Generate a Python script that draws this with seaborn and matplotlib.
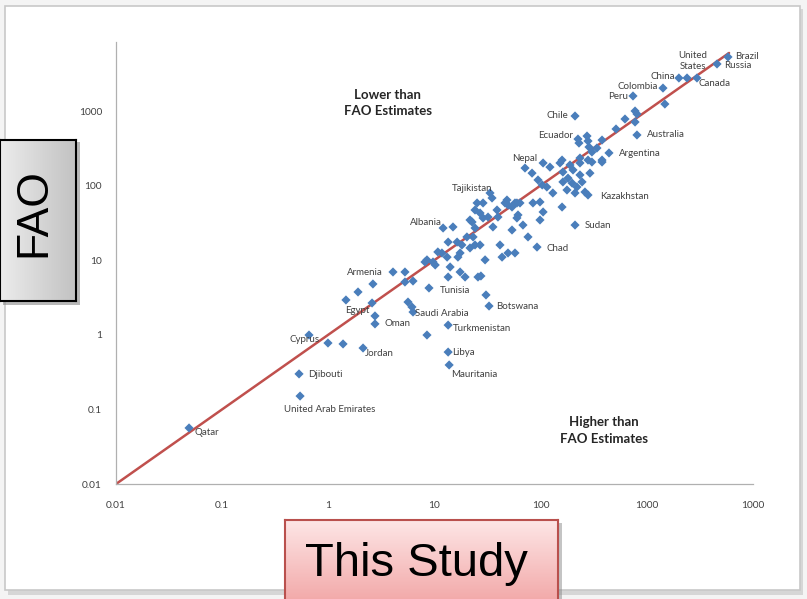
import matplotlib
matplotlib.use("Agg")
import matplotlib.pyplot as plt
import seaborn as sns
import numpy as np
import pandas as pd
from matplotlib.patches import Rectangle
from matplotlib.colors import LinearSegmentedColormap

# ---------------- data ----------------
labeled_names = ["Brazil", "Russia", "China", "United\nStates", "Canada", "Colombia",
                 "Peru", "Chile", "Ecuador", "Australia", "Nepal", "Argentina",
                 "Kazakhstan", "Tajikistan", "Albania", "Sudan", "Chad", "Armenia",
                 "Tunisia", "Botswana", "Egypt", "Saudi Arabia", "Oman", "Turkmenistan",
                 "Cyprus", "Jordan", "Libya", "Mauritania", "Djibouti",
                 "United Arab Emirates", "Qatar"]
labeled_study = [5860, 4620, 2020, 2410, 2990, 1430, 746, 212, 226, 813, 71.6, 443,
                 281, 33.5, 12.1, 212, 92.9, 4.08, 8.91, 32.8, 2.76, 6.30, 2.76, 13.5,
                 0.659, 2.13, 13.5, 13.8, 0.531, 0.543, 0.0488]
labeled_fao = [5300, 4270, 2770, 2770, 2770, 2030, 1590, 857, 421, 477, 172, 274,
               74.8, 79.6, 27.0, 29.6, 15.0, 6.95, 4.24, 2.43, 1.79, 2.02, 1.40, 1.35,
               0.993, 0.665, 0.587, 0.394, 0.299, 0.151, 0.0564]

other_study = [1490, 780, 813, 627, 780, 516, 381,
               275, 281, 231, 287, 341, 306, 236, 281, 381, 160, 190, 106, 123, 83.4,
               94.9, 104, 115, 163, 182, 163, 199, 236, 293, 247, 221, 178, 131, 212,
               263, 203, 85.1, 99.1, 160, 48.4, 60.1, 49.5, 106, 99.1, 153, 236, 306, 381,
               35.0, 25.3, 28.8, 24.2, 27.0, 32.1, 39.0, 39.8, 21.7, 22.7, 28.8, 46.4,
               54.0, 57.6, 64.2, 61.5, 60.1, 68.5, 54.0, 35.7,
               15.0, 24.2, 20.3, 23.2, 13.5, 16.4, 18.2, 17.5, 21.7, 24.2, 27.0, 10.8,
               11.8, 13.2, 8.53, 10.2, 14.1, 16.7, 8.17, 9.72,
               76.4, 41.6, 49.5, 57.6, 43.5, 30.1,
               5.29, 5.29, 6.30, 13.5, 17.5, 19.5, 25.8, 27.5, 30.7, 5.65, 6.16, 8.53,
               2.64, 1.91, 1.47, 2.59, 0.995, 1.38]
other_fao = [1240, 1000, 912, 781, 712, 574, 408,
             462, 396, 372, 329, 319, 282, 234, 220, 220, 220, 189, 201, 177, 147,
             119, 102, 95.8, 152, 126, 112, 108, 139, 147, 112, 95.8, 87.3, 79.6, 79.6,
             82.1, 162, 58.5, 60.3, 51.6, 64.1, 58.5, 55.0, 44.3, 34.6, 201, 201, 207, 207,
             68.2, 58.5, 58.5, 47.1, 42.9, 37.9, 47.1, 37.9, 34.6, 32.5, 36.8, 58.5,
             51.6, 58.5, 58.5, 40.4, 36.8, 29.6, 25.4, 27.9,
             27.9, 27.0, 20.5, 20.5, 17.5, 17.5, 16.0, 12.5, 14.6, 16.0, 16.0, 12.9,
             12.5, 11.0, 10.1, 8.63, 8.11, 11.0, 9.46, 9.46,
             20.5, 16.0, 12.5, 12.5, 11.0, 10.1,
             6.95, 5.10, 5.26, 5.95, 6.95, 5.95, 5.95, 6.14, 3.42, 2.75, 2.36, 0.993,
             4.80, 3.75, 2.93, 2.67, 0.776, 0.754]

one_to_one = [0.01, 6000]

x_ticks = [0.01, 0.1, 1, 10, 100, 1000, 10000]
x_tick_labels = ["0.01", "0.1", "1", "10", "100", "1000", "1000"]
y_ticks = [0.01, 0.1, 1, 10, 100, 1000]
y_tick_labels = ["0.01", "0.1", "1", "10", "100", "1000"]

# label offsets in pixels (dx, dy, ha)
label_offsets = {
    "Brazil": (7, 0, "left"), "Russia": (7, -2, "left"), "China": (-4, 1, "right"),
    "United\nStates": (6, 17, "center"), "Canada": (2, -6, "left"),
    "Colombia": (-5, 2, "right"), "Peru": (-5, -1, "right"), "Chile": (-7, 1, "right"),
    "Ecuador": (-5, 4, "right"), "Australia": (10, 0, "left"), "Nepal": (12, 10, "right"),
    "Argentina": (10, -1, "left"), "Kazakhstan": (12, -1, "left"),
    "Tajikistan": (2, 4, "right"), "Albania": (-1, 6, "right"), "Sudan": (10, 0, "left"),
    "Chad": (9, -1, "left"), "Armenia": (-10, -1, "right"), "Tunisia": (11, -2, "left"),
    "Botswana": (7, 0, "left"), "Egypt": (-5, 5, "right"),
    "Saudi Arabia": (2, -1, "left"), "Oman": (10, 0, "left"),
    "Turkmenistan": (5, -3, "left"), "Cyprus": (-4, -4, "center"),
    "Jordan": (2, -5, "left"), "Libya": (4, 0, "left"), "Mauritania": (2, -10, "left"),
    "Djibouti": (9, -1, "left"), "United Arab Emirates": (30, -13, "center"),
    "Qatar": (5, -5, "left"),
}

# ---------------- figure ----------------
sns.set_theme(style="white")
plt.rcParams["font.family"] = ["Lato", "DejaVu Sans"]

W, H = 807, 599
fig = plt.figure(figsize=(W / 100, H / 100), dpi=100)
fig.patch.set_facecolor("#f4f4f4")

# card with shadow (behind everything)
fig.patches.append(Rectangle((8 / W, 4 / H), 795 / W, 586 / H, transform=fig.transFigure,
                             facecolor="#d6d6d6", edgecolor="none", zorder=-3))
fig.patches.append(Rectangle((5 / W, 9 / H), 795 / W, 584 / H, transform=fig.transFigure,
                             facecolor="white", edgecolor="#c8c8c8", lw=1.2, zorder=-2))

ax = fig.add_axes([116 / W, 1 - 484 / H, (752.6 - 116) / W, (484 - 42) / H])
ax.set_zorder(1)
ax.set_facecolor("none")

df = pd.DataFrame({
    "study": labeled_study + other_study,
    "fao": labeled_fao + other_fao,
})

sns.lineplot(x=one_to_one, y=one_to_one, ax=ax, color="#c0504d", lw=1.8, zorder=2)
sns.scatterplot(data=df, x="study", y="fao", ax=ax, marker="D", s=22,
                color="#4a7ebb", edgecolor="none", linewidth=0, zorder=3)

ax.set_xscale("log")
ax.set_yscale("log")
ax.set_xlim(0.01, 10000)
ax.set_ylim(0.01, 10 ** 3.925)
ax.set_xticks(x_ticks)
ax.set_xticklabels(x_tick_labels)
ax.set_yticks(y_ticks)
ax.set_yticklabels(y_tick_labels)
ax.minorticks_off()
ax.set_xlabel("")
ax.set_ylabel("")
for s in ["top", "right"]:
    ax.spines[s].set_visible(False)
for s in ["left", "bottom"]:
    ax.spines[s].set_color("#b0b0b0")
    ax.spines[s].set_linewidth(0.9)
ax.tick_params(axis="both", direction="out", length=4, width=0.8, color="#b0b0b0",
               labelcolor="#404040", labelsize=7.3)
ax.tick_params(axis="x", pad=8)
ax.tick_params(axis="y", pad=6)
ax.grid(False)

for name, xs, ys in zip(labeled_names, labeled_study, labeled_fao):
    dx, dy, ha = label_offsets[name]
    ax.annotate(name, xy=(xs, ys), xytext=(dx, dy), textcoords="offset pixels",
                ha=ha, va="center", fontsize=7, color="#404040",
                linespacing=1.25, zorder=4)

ax.text(0.427, 0.862, "Lower than\nFAO Estimates", transform=ax.transAxes,
        ha="center", va="center", fontsize=9.5, fontweight="bold", color="#262626",
        linespacing=1.45)
ax.text(0.767, 0.121, "Higher than\nFAO Estimates", transform=ax.transAxes,
        ha="center", va="center", fontsize=9.5, fontweight="bold", color="#262626",
        linespacing=1.45)

# FAO box (grey gradient) with shadow
fig.patches.append(Rectangle((3 / W, 1 - 305 / H), 77 / W, 163 / H, transform=fig.transFigure,
                             facecolor="#8a8a8a", edgecolor="none", alpha=0.6, zorder=2))
bax = fig.add_axes([0, 1 - 301 / H, 76 / W, 161 / H])
bax.set_zorder(3)
grad = np.linspace(0, 1, 256).reshape(1, -1)
gcm = LinearSegmentedColormap.from_list("g", ["#ececec", "#c2c2c2"])
bax.imshow(grad, aspect="auto", cmap=gcm, extent=[0, 1, 0, 1])
bax.set_xlim(0, 1)
bax.set_ylim(0, 1)
bax.set_xticks([])
bax.set_yticks([])
for s in bax.spines.values():
    s.set_color("black")
    s.set_linewidth(1.5)
bax.text(0.45, 0.55, "FAO", rotation=90, ha="center", va="center", fontsize=32,
         family=["Liberation Sans", "DejaVu Sans"], color="black")

# This Study box (pink gradient) with shadow
fig.patches.append(Rectangle((288 / W, 0), 274 / W, 76 / H, transform=fig.transFigure,
                             facecolor="#8a8a8a", edgecolor="none", alpha=0.5, zorder=2))
tax = fig.add_axes([285 / W, -0.01, 273 / W, (599 - 520) / H + 0.01])
tax.set_zorder(3)
pcm = LinearSegmentedColormap.from_list("p", ["#f2a6a6", "#fde6e6"])
tax.imshow(np.linspace(0, 1, 256).reshape(-1, 1), aspect="auto", cmap=pcm,
           extent=[0, 1, 0, 1], origin="lower")
tax.set_xlim(0, 1)
tax.set_ylim(0, 1)
tax.set_xticks([])
tax.set_yticks([])
for s in tax.spines.values():
    s.set_color("#b9504d")
    s.set_linewidth(1.5)
tax.text(0.48, 0.48, "This Study", ha="center", va="center", fontsize=34,
         family=["Liberation Sans", "DejaVu Sans"], color="black")

fig.savefig("out.png", dpi=100)
